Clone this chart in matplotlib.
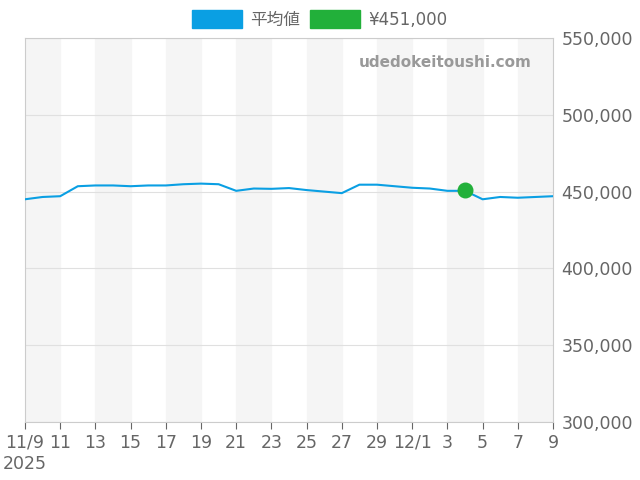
import matplotlib
matplotlib.use("Agg")
import matplotlib.pyplot as plt
import numpy as np
import pandas as pd
from matplotlib.patches import Patch

plt.rcParams["font.family"] = ["DejaVu Sans", "Noto Sans CJK JP"]

dates = pd.date_range("2025-11-09", "2025-12-09", freq="D")
avg_price = [445000, 446500, 447000, 453500, 454000, 454000, 453500, 454000, 454000, 454800,
             455200, 454800, 450500, 452000, 451800, 452300, 451000, 450000, 449000, 454500,
             454500, 453500, 452500, 452000, 450500, 450500, 445000, 446500, 446000, 446500, 447000]
current_date = pd.Timestamp("2025-12-04")
current_price = 451000

fig = plt.figure(figsize=(6.4, 4.8), dpi=100)
ax = fig.add_axes([25/640, 58/480, 528/640, 384/480])

for i in range(0, 30, 4):
    ax.axvspan(dates[i], dates[i + 2], color="#f5f5f5", zorder=0)
ax.plot(dates, avg_price, color="#0a9fe3", lw=1.5, zorder=3)
ax.scatter([current_date], [current_price], s=110, color="#22b03a", zorder=4)

ax.set_xlim(dates[0], dates[-1])
ax.set_ylim(300000, 550000)
ax.yaxis.tick_right()
ax.set_yticks(np.arange(300000, 550001, 50000))
ax.yaxis.set_major_formatter(matplotlib.ticker.FuncFormatter(lambda v, p: f"{int(v):,}"))
ax.grid(axis="y", color="#e0e0e0", lw=0.8)
ax.set_axisbelow(True)

ticks = dates[::2]
labels = []
for d in ticks:
    if d == dates[0]:
        labels.append("11/9\n2025")
    elif d.day == 1:
        labels.append(f"{d.month}/{d.day}")
    else:
        labels.append(str(d.day))
ax.set_xticks(ticks)
ax.set_xticklabels(labels)
ax.tick_params(colors="#666666", labelsize=12.5, length=5)
ax.tick_params(axis="y", length=0, pad=6)
for s in ax.spines.values():
    s.set_color("#cccccc")

ax.text(0.96, 0.935, "udedokeitoushi.com", transform=ax.transAxes, ha="right", va="center",
        fontsize=11, color="#999999", fontweight="bold")

handles = [Patch(color="#0a9fe3"), Patch(color="#22b03a")]
fig.legend(handles, ["平均値", "¥451,000"], loc="upper center", ncol=2, frameon=False,
           bbox_to_anchor=(0.5, 1.01), handlelength=3, handleheight=1.3, fontsize=12,
           labelcolor="#666666", columnspacing=0.6, handletextpad=0.5)

fig.savefig("out.png")
